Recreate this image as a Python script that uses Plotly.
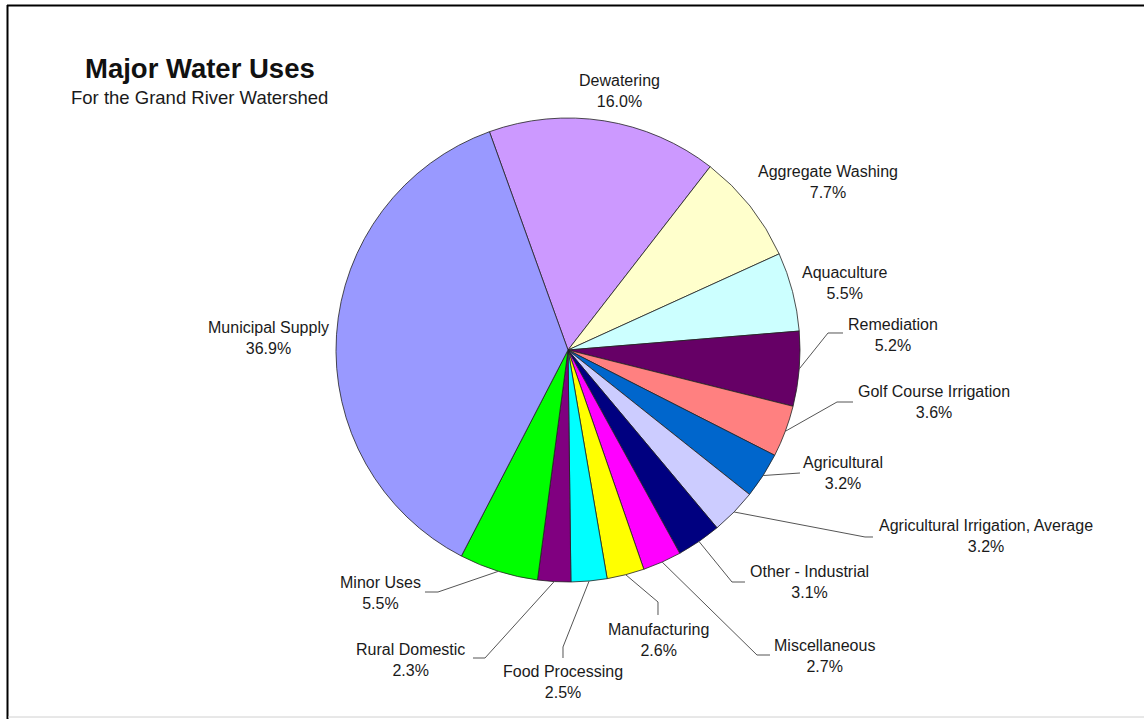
import math
import plotly.graph_objects as go

categories = ["Dewatering", "Aggregate Washing", "Aquaculture", "Remediation",
              "Golf Course Irrigation", "Agricultural", "Agricultural Irrigation, Average",
              "Other - Industrial", "Miscellaneous", "Manufacturing", "Food Processing",
              "Rural Domestic", "Minor Uses", "Municipal Supply"]
values = [16.0, 7.7, 5.5, 5.2, 3.6, 3.2, 3.2, 3.1, 2.7, 2.6, 2.5, 2.3, 5.5, 36.9]
colors = ["#CC99FF", "#FFFFCC", "#CCFFFF", "#660066", "#FF8080", "#0066CC", "#CCCCFF",
          "#000080", "#FF00FF", "#FFFF00", "#00FFFF", "#800080", "#00FF00", "#9999FF"]

W, H = 1144, 719
CX, CY, R = 568, 350, 232
ROT = -19.8

# label block centers (px) and leader lines (elbow, end) in px
label_pos = [(619, 91), (828, 182), (844, 283), (893, 335), (934, 402), (843, 473),
             (986, 536), (809, 582), (824, 656), (658, 640), (563, 682), (410, 660),
             (380, 593), (268, 338)]
leaders = [None, None, None,
           [(828, 333), (843, 333)],
           [(837, 402), (853, 402)],
           [(800, 473)],
           [(865, 537), (873, 537)],
           [(732, 582), (745, 582)],
           [(757, 655), (770, 655)],
           [(658, 602), (658, 615)],
           [(563, 647), (563, 658)],
           [(485, 658), (473, 658)],
           [(438, 592), (425, 592)],
           None]


def px(x):
    return x / W


def py(y):
    return 1 - y / H


fig = go.Figure(go.Pie(
    labels=categories, values=values, sort=False, direction="clockwise",
    rotation=ROT, marker=dict(colors=colors, line=dict(color="#222222", width=0.8)),
    textinfo="none", hoverinfo="label+percent", showlegend=False,
    domain=dict(x=[px(CX - R), px(CX + R)], y=[py(CY + R), py(CY - R)]),
))

total = sum(values)
shapes = []
annotations = []
cum = 0.0
for name, v, pos, ld in zip(categories, values, label_pos, leaders):
    mid = (cum + v / 2) / total
    cum += v
    ang = math.radians(ROT + 360 * mid)
    sx, sy = CX + R * math.sin(ang), CY - R * math.cos(ang)
    if ld:
        pts = [(sx, sy)] + ld
        path = "M " + " L ".join(f"{px(x):.5f},{py(y):.5f}" for x, y in pts)
        shapes.append(dict(type="path", xref="paper", yref="paper", path=path,
                           line=dict(color="#555555", width=1)))
    annotations.append(dict(
        x=px(pos[0]), y=py(pos[1]), xref="paper", yref="paper",
        text=f"{name}<br>{v:.1f}%", showarrow=False, xanchor="center", yanchor="middle",
        font=dict(family="Arial, Liberation Sans, sans-serif", size=16, color="#1a1a1a"),
    ))

annotations.append(dict(x=px(200), y=py(68), xref="paper", yref="paper",
                        text="<b>Major Water Uses</b>", showarrow=False,
                        xanchor="center", yanchor="middle",
                        font=dict(family="Arial, Liberation Sans, sans-serif", size=27.5, color="#111111")))
annotations.append(dict(x=px(199), y=py(97), xref="paper", yref="paper",
                        text="For the Grand River Watershed", showarrow=False,
                        xanchor="center", yanchor="middle",
                        font=dict(family="Arial, Liberation Sans, sans-serif", size=18.5, color="#1a1a1a")))

# frame
shapes.append(dict(type="line", xref="paper", yref="paper", x0=px(7.5), x1=px(7.5),
                   y0=py(5), y1=py(719), line=dict(color="black", width=2)))
shapes.append(dict(type="line", xref="paper", yref="paper", x0=px(7), x1=px(1144),
                   y0=py(5.5), y1=py(5.5), line=dict(color="black", width=2)))
shapes.append(dict(type="line", xref="paper", yref="paper", x0=px(8), x1=px(1144),
                   y0=py(717), y1=py(717), line=dict(color="#d0d0d0", width=1)))

fig.update_layout(width=W, height=H, margin=dict(l=0, r=0, t=0, b=0),
                  paper_bgcolor="white", plot_bgcolor="white",
                  shapes=shapes, annotations=annotations)
fig.write_html("out.html", config={"displayModeBar": False},
               post_script="document.body.style.margin='0';document.body.style.overflow='hidden';")
